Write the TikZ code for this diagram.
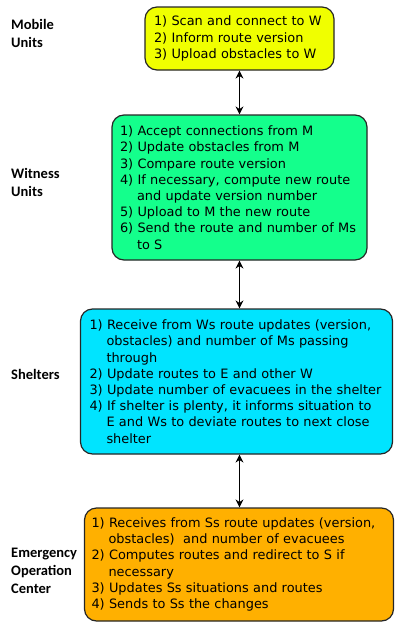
\documentclass[tikz,border=0pt]{standalone}
\usepackage{fontspec}
\setmainfont{DejaVu Sans}
\newfontfamily\tierfont{Carlito}
\usetikzlibrary{arrows.meta}

\definecolor{mobilecol}{RGB}{240,255,0}
\definecolor{witnesscol}{RGB}{20,255,140}
\definecolor{sheltercol}{RGB}{0,228,255}
\definecolor{centercol}{RGB}{255,176,0}

\begin{document}
\begin{tikzpicture}[
    x=1pt, y=-1pt,
    box/.style={draw=black!85, line width=1.2pt, rounded corners=12pt, align=left,
        inner ysep=0pt, font=\fontsize{12.9}{16.2}\selectfont},
    tier/.style={anchor=west, align=left, inner sep=0pt,
        font=\tierfont\bfseries\fontsize{14.5}{18}\selectfont},
    link/.style={{Stealth[length=8pt,width=8pt]}-{Stealth[length=8pt,width=8pt]}, line width=1.3pt}
]
% Set manual bounding box
\useasboundingbox (0,0) rectangle (394,624);

\newcommand{\hang}{\hspace*{17pt}}

% Boxes
\node[box, fill=mobilecol, text width=171pt, inner xsep=9pt, minimum height=63pt] (mobile) at (239.5,38.5) {
    1) Scan and connect to W\\
    2) Inform route version\\
    3) Upload obstacles to W};

\node[box, fill=witnesscol, text width=239pt, inner xsep=8pt, minimum height=145pt] (witness) at (239.5,187.5) {
    1) Accept connections from M\\
    2) Update obstacles from M\\
    3) Compare route version\\
    4) If necessary, compute new route\\
    \hang and update version number\\
    5) Upload to M the new route\\
    6) Send the route and number of Ms\\
    \hang to S};

\node[box, fill=sheltercol, text width=294pt, inner xsep=9pt, minimum height=145pt] (shelter) at (236.5,381.5) {
    1) Receive from Ws route updates (version,\\
    \hang obstacles) and number of Ms passing\\
    \hang through\\
    2) Update routes to E and other W\\
    3) Update number of evacuees in the shelter\\
    4) If shelter is plenty, it informs situation to\\
    \hang E and Ws to deviate routes to next close\\
    \hang shelter};

\node[box, fill=centercol, text width=295pt, inner xsep=7pt, minimum height=113pt] (center) at (239,564.5) {
    1) Receives from Ss route updates (version,\\
    \hang obstacles)\ \ and number of evacuees\\
    2) Computes routes and redirect to S if\\
    \hang necessary\\
    3) Updates Ss situations and routes\\
    4) Sends to Ss the changes};

% Tier names
\node[tier] (mobilename) at (11,33) {Mobile\\Units};
\node[tier] (witnessname) at (11,182) {Witness\\Units};
\node[tier] (sheltername) at (11,374) {Shelters};
\node[tier] (centername) at (11,571) {Emergency\\Operation\\Center};

% Connections
\draw[link] (mobile.south) -- (witness.north);
\draw[link] (witness.south) -- (witness.south |- shelter.north);
\draw[link] (witness.south |- shelter.south) -- (witness.south |- center.north);

\end{tikzpicture}
\end{document}
